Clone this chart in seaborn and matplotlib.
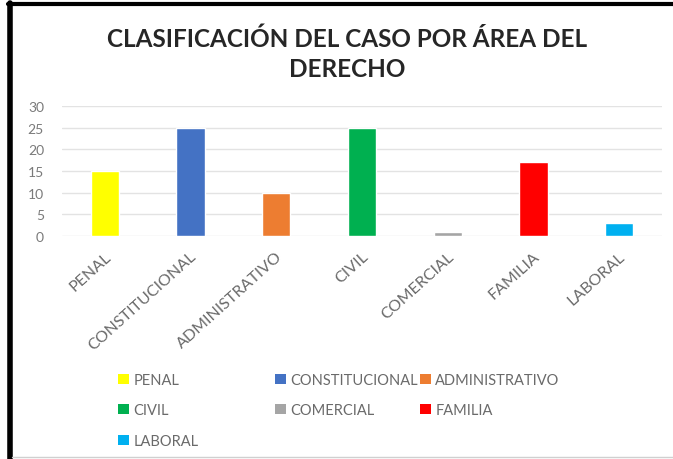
import matplotlib
matplotlib.use("Agg")
import matplotlib.pyplot as plt
import matplotlib.transforms as mtransforms
import seaborn as sns
import pandas as pd
from matplotlib.lines import Line2D
from matplotlib.patches import Patch

# datos del grafico
areas = ["PENAL", "CONSTITUCIONAL", "ADMINISTRATIVO", "CIVIL", "COMERCIAL", "FAMILIA", "LABORAL"]
casos = [15, 25, 10, 25, 1, 17, 3]
colores = ["#FFFF00", "#4472C4", "#ED7D31", "#00B050", "#A5A5A5", "#FF0000", "#00B0F0"]
yticks = [0, 5, 10, 15, 20, 25, 30]

df = pd.DataFrame({"area": areas, "casos": casos})

sns.set_style("white")
plt.rcParams["font.family"] = ["Lato", "DejaVu Sans"]

fig = plt.figure(figsize=(6.73, 4.6), dpi=100)
ax = fig.add_axes([62 / 673, (460 - 237) / 460, 600 / 673, 130 / 460])

sns.barplot(data=df, x="area", y="casos", hue="area", palette=colores,
            width=0.33, legend=False, ax=ax, saturation=1)

ax.set_ylim(0, 30)
ax.set_yticks(yticks)
ax.set_xlim(-0.5, len(areas) - 0.5)
ax.set_xlabel("")
ax.set_ylabel("")
ax.grid(axis="y", color="#e3e3e3", linewidth=1)
ax.set_axisbelow(True)
for s in ax.spines.values():
    s.set_visible(False)
ax.tick_params(axis="y", length=0, labelsize=10, labelcolor="#7a7a7a", pad=13)
ax.tick_params(axis="x", length=0, labelsize=11.5, labelcolor="#6a6a6a", pad=13)
desplaza = mtransforms.ScaledTranslation(4 / 100, 0, fig.dpi_scale_trans)
for lab in ax.get_xticklabels():
    lab.set_rotation(42)
    lab.set_ha("right")
    lab.set_va("center")
    lab.set_rotation_mode("anchor")
    lab.set_transform(lab.get_transform() + desplaza)

fig.text(0.516, 1 - 54 / 460, "CLASIFICACIÓN DEL CASO POR ÁREA DEL\nDERECHO", ha="center", va="center",
         fontsize=17.5, fontweight="bold", color="#262626", linespacing=1.38)

# leyenda en dos bloques para imitar el orden por filas
def handles(nombres):
    return [Patch(facecolor=colores[areas.index(n)], edgecolor="none", label=n) for n in nombres]

leg_kw = dict(frameon=False, fontsize=10.5, labelcolor="#6a6a6a", handlelength=0.75,
              handleheight=0.7, handletextpad=0.3, labelspacing=1.13, borderaxespad=0)
leg1 = fig.legend(handles=handles(["PENAL", "CIVIL", "LABORAL"]), loc="upper left",
                  bbox_to_anchor=(112 / 673, 1 - 368 / 460), **leg_kw)
leg2 = fig.legend(handles=handles(["CONSTITUCIONAL", "COMERCIAL", "ADMINISTRATIVO", "FAMILIA"]),
                  ncol=2, columnspacing=0.15, loc="upper left",
                  bbox_to_anchor=(269 / 673, 1 - 368 / 460), **leg_kw)

# marco negro de la captura
fig.add_artist(Line2D([10 / 673, 10 / 673], [0, 1 - 4 / 460], color="black", linewidth=4))
fig.add_artist(Line2D([8 / 673, 1], [1 - 5 / 460, 1 - 5 / 460], color="black", linewidth=3))
fig.add_artist(Line2D([12 / 673, 1], [2 / 460, 2 / 460], color="#d0d0d0", linewidth=1))

fig.savefig("out.png", dpi=100)
